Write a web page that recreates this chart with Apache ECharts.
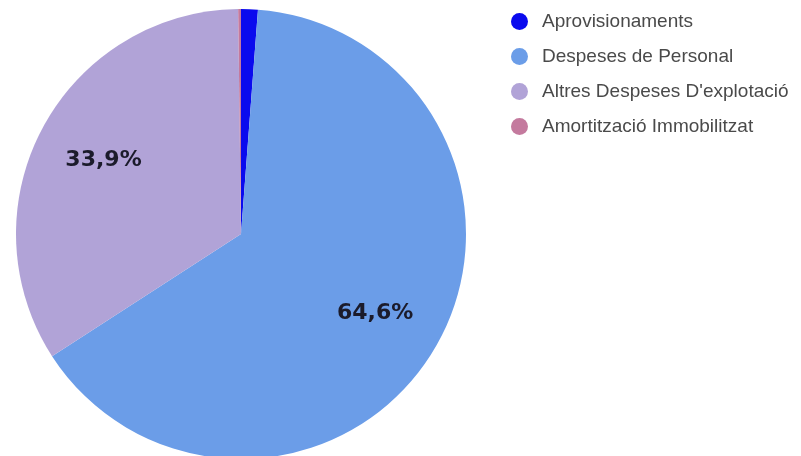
<!DOCTYPE html>
<html>
<head>
<meta charset="utf-8">
<script src="https://cdn.jsdelivr.net/npm/echarts@6/dist/echarts.min.js"></script>
<style>html,body{margin:0;padding:0;background:#fff}#c{width:801px;height:456px}</style>
</head>
<body>
<div id="c"></div>
<script>
const categories = ["Aprovisionaments", "Despeses de Personal", "Altres Despeses D'explotació", "Amortització Immobilitzat"];
const values = [1.2, 64.6, 33.9, 0.2];
const colors = ['#0a0aee', '#6b9de8', '#b1a3d7', '#c47a9e'];

const data = categories.map((n, i) => ({ name: n, value: values[i], itemStyle: { color: colors[i] } }));
const labelData = categories.map((n, i) => ({ name: n, value: values[i], itemStyle: { color: 'rgba(0,0,0,0)' } }));

const chart = echarts.init(document.getElementById('c'));
chart.setOption({
  animation: false,
  legend: {
    orient: 'vertical',
    left: 506,
    top: 7,
    icon: 'circle',
    itemWidth: 17,
    itemHeight: 17,
    itemGap: 16,
    data: categories,
    textStyle: { fontFamily: 'Liberation Sans', fontSize: 19, color: '#4a4a4a', padding: [0, 0, 0, 9] }
  },
  series: [
    {
      type: 'pie',
      center: [241, 234],
      radius: [0, 225],
      startAngle: 90,
      silent: true,
      label: { show: false },
      labelLine: { show: false },
      data: data
    },
    {
      type: 'pie',
      center: [241, 234],
      radius: [81, 225],
      startAngle: 90,
      silent: true,
      labelLine: { show: false },
      label: {
        show: true,
        position: 'inside',
        fontFamily: 'DejaVu Sans',
        fontWeight: 'bold',
        fontSize: 22,
        color: '#1b1b2b',
        padding: [4, 0, 0, 0],
        formatter: p => p.value > 5 ? String(p.value).replace('.', ',') + '%' : ''
      },
      data: labelData
    }
  ]
});
</script>
</body>
</html>
